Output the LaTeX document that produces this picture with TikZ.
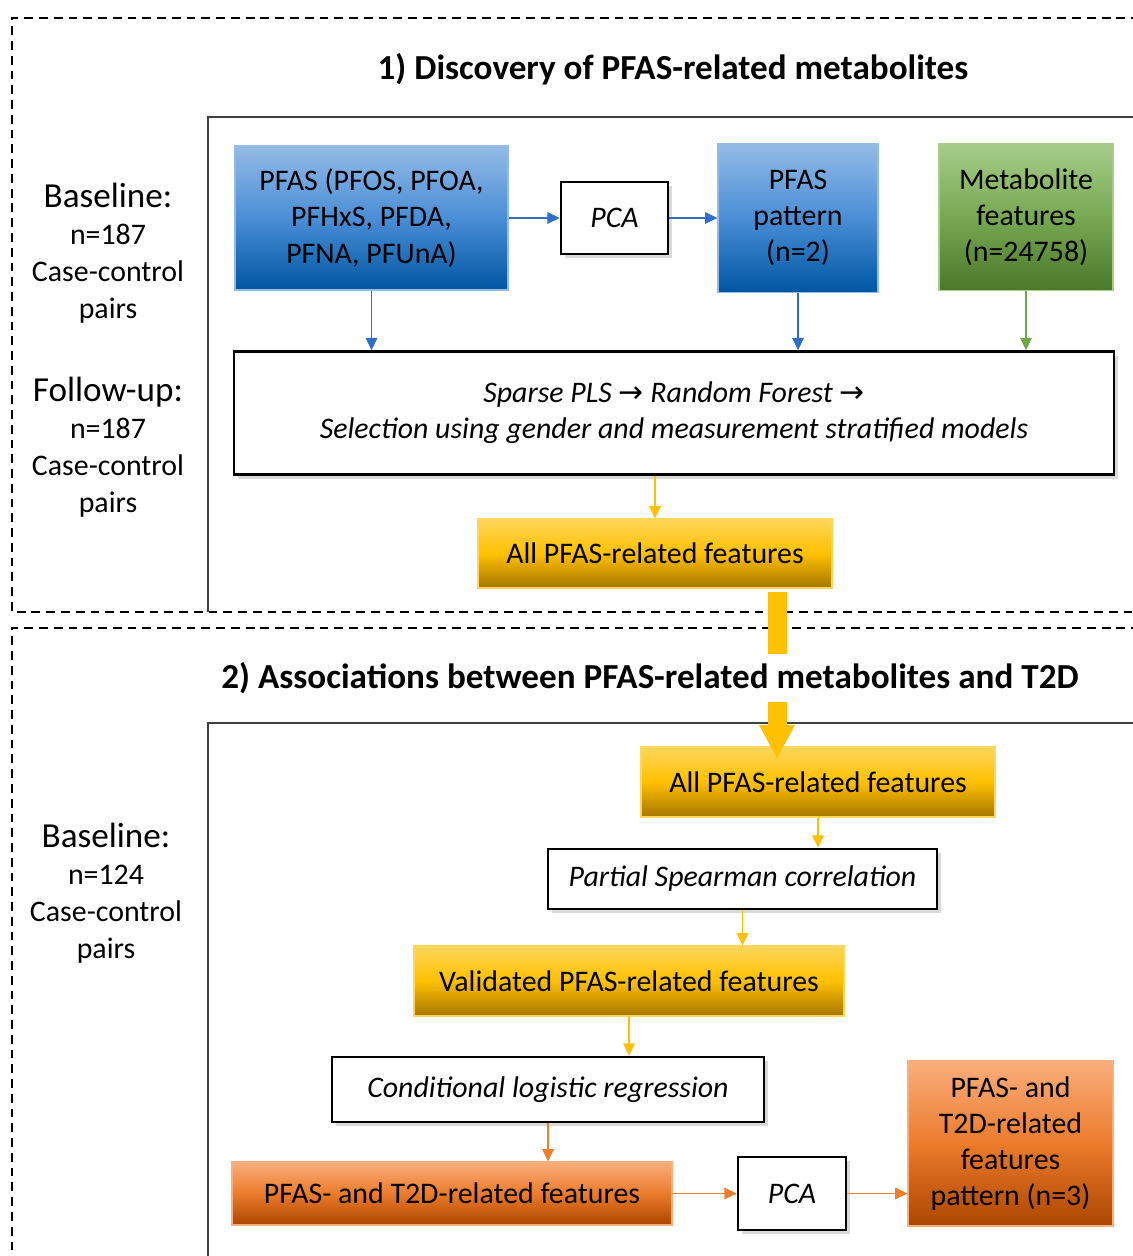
\documentclass[tikz,border=0pt]{standalone}
\usepackage{fontspec}
\setmainfont{Carlito}
\newfontfamily\symfont{DejaVu Sans}
\usetikzlibrary{arrows.meta, positioning, shadows}

% Colours of the shaded boxes and of the arrows
\definecolor{blueTop}{HTML}{93BBE6}
\definecolor{blueMid}{HTML}{4A8ED6}
\definecolor{blueBot}{HTML}{0056A2}
\definecolor{greenTop}{HTML}{A6CD8A}
\definecolor{greenMid}{HTML}{77A852}
\definecolor{greenBot}{HTML}{4A792A}
\definecolor{yellowTop}{HTML}{FFD65C}
\definecolor{yellowMid}{HTML}{FFC000}
\definecolor{yellowBot}{HTML}{A67600}
\definecolor{orangeTop}{HTML}{F9AE7C}
\definecolor{orangeMid}{HTML}{EC7B2C}
\definecolor{orangeBot}{HTML}{AC4600}
\definecolor{blueArrow}{HTML}{2F6DC6}
\definecolor{greenArrow}{HTML}{6EA845}
\definecolor{yellowArrow}{HTML}{FFC000}
\definecolor{orangeArrow}{HTML}{F07D2E}

\def\pxu{0.02cm}
\newcommand\boxfont{\fontsize{17}{20.6}\selectfont}
\newcommand\sidefont{\fontsize{17}{21}\selectfont}
\newcommand\bigsidefont{\fontsize{20}{21}\selectfont}

\tikzset{
    boxsize/.style 2 args={minimum width=#1*\pxu, minimum height=#2*\pxu},
    shadedbox/.style={inner sep=0pt, align=center, font=\boxfont, line width=0.6pt},
    bluebox/.style={shadedbox, draw=blueTop, top color=blueTop, bottom color=blueBot, middle color=blueMid},
    greenbox/.style={shadedbox, draw=greenTop, top color=greenTop, bottom color=greenBot, middle color=greenMid},
    yellowbox/.style={shadedbox, draw=yellowTop, top color=yellowTop, bottom color=yellowBot, middle color=yellowMid},
    orangebox/.style={shadedbox, draw=orangeTop, top color=orangeTop, bottom color=orangeBot, middle color=orangeMid},
    whitebox/.style={inner sep=0pt, align=center, font=\boxfont\itshape, draw=black, line width=1.4pt, fill=white,
        drop shadow={shadow xshift=2pt, shadow yshift=-2.5pt, opacity=0.3}},
    sidelabel/.style={align=center, font=\sidefont},
    sectiontitle/.style={font=\fontsize{20}{23}\selectfont\bfseries},
    link/.style={line width=0.8pt, -{Triangle[length=7pt, width=6.5pt]}},
    sectionline/.style={line width=1.3pt, dash pattern=on 5pt off 3.4pt},
    frameline/.style={line width=0.8pt, draw=black!75},
}

\begin{document}
\begin{tikzpicture}[x=\pxu, y=-\pxu]
    \useasboundingbox (0,0) rectangle (1132,1256);

    % Dashed section borders and inner frames
    \draw[sectionline] (1140,18) -- (12,18) -- (12,612) -- (1140,612);
    \draw[sectionline] (1140,628) -- (12,628) -- (12,1265);
    \draw[frameline] (1140,117) -- (208,117) -- (208,612);
    \draw[frameline] (1140,723) -- (208,723) -- (208,1265);

    % Section 1
    \node[sectiontitle] (title1) at (673,69) {1) Discovery of PFAS-related metabolites};

    \node[sidelabel] (base1) at (108,253) {{\bigsidefont Baseline:}\\n=187\\Case-control\\pairs};
    \node[sidelabel] (follow1) at (108,447) {{\bigsidefont Follow-up:}\\n=187\\Case-control\\pairs};

    \node[bluebox, boxsize={273}{144}] (pfas) at (371.5,218) {PFAS (PFOS, PFOA,\\PFHxS, PFDA,\\PFNA, PFUnA)};
    \node[whitebox, boxsize={107}{72}] (pca1) at (614.5,218) {PCA};
    \node[bluebox, boxsize={160}{149}] (pattern) at (798,218) {PFAS\\pattern\\(n=2)};
    \node[greenbox, boxsize={174}{147}] (metab) at (1026,217) {Metabolite\\features\\(n=24758)};
    \node[whitebox, boxsize={880}{123}] (select) at (674,413)
        {Sparse PLS {\symfont\upshape →} Random Forest {\symfont\upshape →}\\Selection using gender and measurement stratified models};
    \node[yellowbox, boxsize={354}{69}] (all1) at (655,553.5) {All PFAS-related features};

    \draw[link, blueArrow] (pfas) -- (pca1);
    \draw[link, blueArrow] (pca1) -- (pattern);
    \draw[link, blueArrow] (pfas.south) -- (pfas.south |- select.north);
    \draw[link, blueArrow] (pattern.south) -- (pattern.south |- select.north);
    \draw[link, greenArrow] (metab.south) -- (metab.south |- select.north);
    \draw[link, yellowArrow] (all1.north |- select.south) -- (all1.north);

    % Section 2
    \node[sidelabel] (base2) at (106,893) {{\bigsidefont Baseline:}\\n=124\\Case-control\\pairs};

    \node[yellowbox, boxsize={354}{70}] (all2) at (818,782) {All PFAS-related features};
    \node[whitebox, boxsize={389}{60}] (spear) at (742.5,879) {Partial Spearman correlation};
    \node[yellowbox, boxsize={430}{70}] (valid) at (629,981) {Validated PFAS-related features};
    \node[whitebox, boxsize={432}{65}] (clr) at (548,1089.5) {Conditional logistic regression};
    \node[orangebox, boxsize={440}{63}] (t2dfeat) at (452,1193.5) {PFAS- and T2D-related features};
    \node[whitebox, boxsize={108}{73}] (pca2) at (792,1193.5) {PCA};
    \node[orangebox, boxsize={205}{165}] (t2dpat) at (1010.5,1143.5) {PFAS- and\\T2D-related\\features\\pattern (n=3)};

    \draw[link, yellowArrow] (all2.south) -- (all2.south |- spear.north);
    \draw[link, yellowArrow] (spear.south) -- (spear.south |- valid.north);
    \draw[link, yellowArrow] (valid.south) -- (valid.south |- clr.north);
    \draw[link, orangeArrow] (clr.south) -- (clr.south |- t2dfeat.north);
    \draw[link, orangeArrow] (t2dfeat) -- (pca2);
    \draw[link, orangeArrow] (pca2.east) -- (pca2.east -| t2dpat.west);

    % Thick arrow carrying the features into section 2
    \coordinate (carry-start) at (777,592);
    \coordinate (carry-end) at (777,758);
    \draw[yellowArrow, line width=19*\pxu, -{Triangle[length=0.66cm, width=0.72cm, line width=0pt]}] (carry-start) -- (carry-end);

    \node[sectiontitle, fill=white, minimum height=48*\pxu, inner xsep=3pt] (title2) at (650,678)
        {2) Associations between PFAS-related metabolites and T2D};
\end{tikzpicture}
\end{document}
